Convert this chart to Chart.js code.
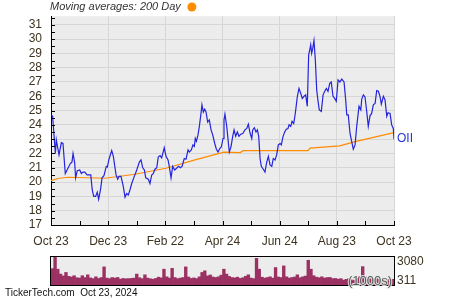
<!DOCTYPE html>
<html>
<head>
<meta charset="utf-8">
<script src="https://cdn.jsdelivr.net/npm/chart.js@4"></script>
<style>
  html, body { margin: 0; padding: 0; background: #fff; }
  #wrap { position: relative; width: 450px; height: 300px; }
  canvas { position: absolute; left: 0; top: 0; }
</style>
</head>
<body>
<div id="wrap">
  <canvas id="priceChart" width="450" height="300"></canvas>
  <canvas id="volumeChart" width="450" height="300"></canvas>
</div>
<script>
// trading day index (0 = Oct 23, 2023 ... 252 = Oct 23, 2024)
const priceDays = [0.2, 1.2, 3.2, 3.9, 5.9, 7.6, 8.8, 10.5, 11.8, 14.2, 15.4, 16.2, 17.4, 18.1, 19.3, 21.1, 22.3, 23.5, 24.8, 26.5,
  29.2, 30.3, 31.4, 32.8, 34.0, 35.0, 36.5, 37.5, 38.9, 40.6, 41.4, 42.6, 44.6, 45.8, 47.8, 49.0, 50.0, 51.4, 53.1, 54.4,
  55.6, 56.8, 58.0, 59.3, 61.2, 63.0, 64.9, 66.1, 67.4, 68.6, 69.6, 71.5, 72.7, 74.0, 75.2, 76.4, 77.7, 78.8, 80.1, 81.3,
  83.2, 84.5, 86.0, 86.9, 88.2, 89.4, 90.9, 92.6, 93.8, 95.0, 96.3, 97.9, 99.2, 100.7, 101.6, 103.1, 104.3, 105.3, 106.0, 106.8,
  108.0, 109.0, 110.2, 110.9, 111.9, 112.9, 113.9, 115.1, 116.3, 117.6, 118.8, 120.3, 121.5, 122.7, 124.0, 125.1, 126.4, 127.1, 127.8, 129.1,
  131.0, 132.3, 133.5, 134.5, 135.7, 136.9, 138.1, 139.4, 140.9, 142.5, 143.8, 145.0, 146.2, 147.5, 148.2, 149.4, 150.6, 151.6, 152.6, 153.6,
  154.5, 156.0, 157.2, 158.5, 159.7, 160.9, 162.2, 163.3, 164.6, 165.8, 167.0, 168.3, 169.2, 170.5, 171.7, 172.9, 174.1, 174.9, 176.1, 177.1,
  178.3, 179.1, 179.8, 181.0, 182.2, 183.5, 184.6, 185.9, 187.1, 188.3, 189.3, 190.1, 190.8, 191.5, 192.3, 193.2, 194.2, 195.2, 196.2, 197.1,
  198.6, 199.9, 201.1, 202.3, 203.5, 204.8, 205.9, 207.2, 208.4, 209.6, 210.9, 212.3, 213.6, 215.3, 216.5, 217.3, 218.4, 219.7, 220.9, 222.1,
  223.4, 224.6, 226.3, 227.6, 228.3, 229.5, 230.7, 232.0, 233.1, 234.4, 235.6, 236.8, 238.1, 239.3, 240.5, 241.7, 242.7, 244.2, 245.4, 246.7,
  247.6, 249.1, 250.3, 251.5, 252];
const priceValues = [24.7, 24.6, 22.0, 22.95, 21.9, 22.76, 22.7, 20.6, 20.85, 21.3, 21.4, 22.0, 21.35, 20.3, 20.8, 20.85, 20.6, 20.7, 20.7, 20.5,
  20.5, 19.45, 19.0, 19.0, 19.3, 18.8, 19.55, 20.3, 20.45, 21.1, 21.05, 21.6, 22.2, 21.8, 20.5, 20.2, 20.4, 20.4, 19.7, 18.95,
  19.2, 19.1, 19.45, 19.9, 20.4, 20.85, 21.4, 21.55, 21.0, 20.85, 20.3, 20.2, 19.9, 20.5, 20.6, 20.9, 21.0, 21.75, 21.85, 21.7,
  22.4, 21.8, 21.55, 21.1, 20.3, 21.1, 20.85, 21.0, 21.1, 21.0, 21.1, 21.65, 21.6, 22.25, 22.1, 22.25, 22.6, 22.5, 23.05, 22.85,
  23.3, 23.9, 24.8, 25.4, 24.9, 25.1, 24.9, 24.2, 24.35, 23.65, 23.3, 22.7, 22.3, 22.1, 22.35, 22.45, 23.05, 24.35, 24.75, 23.9,
  22.1, 22.5, 23.2, 23.65, 23.2, 23.5, 23.2, 23.35, 23.4, 23.65, 23.75, 24.05, 23.45, 23.05, 23.65, 23.8, 23.5, 23.65, 23.2, 21.65,
  21.1, 20.9, 20.7, 21.4, 21.8, 21.2, 21.1, 21.65, 21.55, 21.9, 22.6, 22.7, 22.6, 23.2, 23.5, 23.7, 23.75, 24.0, 23.9, 24.25,
  24.1, 24.55, 25.05, 26.0, 26.55, 26.2, 25.85, 26.0, 26.1, 25.3, 28.9, 29.25, 29.6, 29.0, 29.35, 29.9, 28.55, 26.45, 25.65, 25.05,
  24.95, 26.1, 26.35, 26.55, 26.35, 26.9, 27.0, 26.0, 25.85, 25.65, 27.15, 27.0, 27.2, 27.0, 25.75, 24.7, 24.7, 23.4, 22.85, 22.3,
  22.6, 23.9, 25.3, 25.05, 25.8, 26.1, 25.95, 24.9, 23.9, 24.65, 24.8, 25.4, 25.5, 26.4, 26.35, 26.0, 25.45, 26.0, 25.75, 24.6,
  24.85, 24.8, 24.0, 23.75, 23.0];

// 200 day moving average
const maDays = [0, 5, 12.5, 39.7, 61.7, 84.5, 105.8, 127.1, 138.9, 141.3, 188.8, 190.3, 212.1, 223.4, 252];
const maValues = [20.1, 20.25, 20.34, 20.27, 20.55, 20.97, 21.55, 22.1, 22.06, 22.2, 22.2, 22.37, 22.53, 22.83, 23.46];

// volume in 1000s, one bar per two trading days
const volumeValues = [1800, 3080, 1740, 1200, 1000, 1380, 950, 880, 1020, 800, 760, 1020, 820, 1120, 780, 700, 900, 720, 820, 1990,
  760, 700, 820, 760, 830, 640, 720, 680, 700, 720, 760, 1200, 800, 700, 1120, 760, 680, 640, 720, 860,
  780, 1740, 900, 760, 1830, 820, 700, 760, 820, 1990, 880, 720, 780, 700, 900, 1380, 1560, 1000, 1100, 880,
  820, 900, 1080, 1740, 1200, 940, 820, 780, 860, 720, 800, 960, 1120, 760, 700, 2930, 1740, 860, 760, 820,
  900, 760, 1920, 880, 820, 2100, 900, 760, 820, 880, 1120, 800, 900, 980, 2720, 1740, 1020, 860, 800, 900,
  760, 820, 830, 700, 720, 640, 700, 540, 620, 700, 580, 640, 700, 900, 2020, 880, 760, 680, 640, 700,
  620, 600, 560, 640, 600, 620];
const volumeDays = volumeValues.map((v, i) => String(i * 2 + 1));

const xTickDays = [0, 42, 84, 126, 168, 210, 252];
const xTickLabels = ['Oct 23', 'Dec 23', 'Feb 22', 'Apr 24', 'Jun 24', 'Aug 23', 'Oct 23'];
const volumeTickLabels = ['3080', '311'];
const tickerName = 'OII';
const titleText = 'Moving averages: 200 Day';
const footerText = 'TickerTech.com  Oct 23, 2024';

const FONT = '"Liberation Sans", Arial, sans-serif';
const TEXT = '#3d3320';
Chart.defaults.font.family = FONT;
Chart.defaults.animation = false;

// grey plot background
const plotBg = {
  id: 'plotBg',
  beforeDraw(chart) {
    const a = chart.chartArea, ctx = chart.ctx;
    ctx.save();
    ctx.fillStyle = '#ececec';
    ctx.fillRect(a.left, a.top, a.right - a.left, a.bottom - a.top);
    ctx.restore();
  }
};

// short inward tick marks, title, ticker label, footer
const priceDecor = {
  id: 'priceDecor',
  afterDraw(chart) {
    const ctx = chart.ctx, a = chart.chartArea;
    const xs = chart.scales.x, ys = chart.scales.y;
    ctx.save();
    ctx.strokeStyle = '#000';
    ctx.lineWidth = 1;
    ctx.beginPath();
    for (let v = 17; v <= 31.5; v += 0.5) {
      const y = Math.round(ys.getPixelForValue(v)) + 0.5;
      ctx.moveTo(a.left, y);
      ctx.lineTo(a.left + 4, y);
    }
    for (let d = 0; d <= 252; d += 21) {
      const x = Math.round(xs.getPixelForValue(d)) + 0.5;
      ctx.moveTo(x, a.bottom);
      ctx.lineTo(x, a.bottom - 4);
    }
    ctx.stroke();

    // title with orange dot
    ctx.font = 'italic 11px ' + FONT;
    ctx.fillStyle = '#333';
    ctx.textBaseline = 'middle';
    ctx.textAlign = 'left';
    ctx.fillText(titleText, 50, 7);
    const w = ctx.measureText(titleText).width;
    ctx.fillStyle = '#ff8c00';
    ctx.beginPath();
    ctx.arc(50 + w + 11, 7, 4.5, 0, Math.PI * 2);
    ctx.fill();

    // ticker name at the end of the price line
    const last = chart.getDatasetMeta(0).data.at(-1);
    ctx.font = '12px ' + FONT;
    ctx.fillStyle = '#2233dd';
    ctx.fillText(tickerName, a.right + 3, last.y - 1);

    // footer
    ctx.font = '10px ' + FONT;
    ctx.fillStyle = '#111';
    ctx.fillText(footerText, 5, 293);
    ctx.restore();
  }
};

new Chart(document.getElementById('priceChart'), {
  type: 'line',
  data: {
    datasets: [{
      data: priceDays.map((d, i) => ({ x: d, y: priceValues[i] })),
      borderColor: '#2424dc',
      borderWidth: 1.2,
      pointRadius: 0,
      tension: 0
    }, {
      data: maDays.map((d, i) => ({ x: d, y: maValues[i] })),
      borderColor: '#ff8c00',
      borderWidth: 1.2,
      pointRadius: 0,
      tension: 0
    }]
  },
  options: {
    responsive: false,
    devicePixelRatio: 1,
    layout: { padding: { left: 0, top: 16, right: 56, bottom: 0 } },
    plugins: { legend: { display: false }, tooltip: { enabled: false } },
    scales: {
      x: {
        type: 'linear',
        min: 0,
        max: 252,
        afterFit: s => { s.height = 75; },
        afterBuildTicks: s => { s.ticks = xTickDays.map(v => ({ value: v })); },
        ticks: {
          autoSkip: false,
          maxRotation: 0,
          padding: 9,
          color: TEXT,
          font: { size: 12 },
          callback: v => xTickLabels[xTickDays.indexOf(v)]
        },
        grid: { color: '#d6d6d6', drawTicks: false },
        border: { color: '#000', width: 1 }
      },
      y: {
        type: 'linear',
        min: 17,
        max: 31.6,
        afterFit: s => { s.width = 51; },
        ticks: {
          stepSize: 1,
          autoSkip: false,
          includeBounds: false,
          padding: 9,
          color: TEXT,
          font: { size: 12 }
        },
        grid: { color: '#d6d6d6', drawTicks: false },
        border: { color: '#000', width: 1 }
      }
    }
  },
  plugins: [plotBg, priceDecor]
});

// volume panel: border, right labels and unit
const volumeDecor = {
  id: 'volumeDecor',
  afterDraw(chart) {
    const ctx = chart.ctx, a = chart.chartArea;
    ctx.save();
    ctx.strokeStyle = '#000';
    ctx.lineWidth = 1;
    ctx.strokeRect(a.left - 0.5, a.top - 0.5, a.right - a.left + 1, a.bottom - a.top + 1);
    ctx.font = '12px ' + FONT;
    ctx.fillStyle = TEXT;
    ctx.textBaseline = 'middle';
    ctx.textAlign = 'left';
    ctx.fillText(volumeTickLabels[0], a.right + 3, a.top + 5);
    ctx.fillText(volumeTickLabels[1], a.right + 3, a.bottom - 4);
    ctx.font = '13px ' + FONT;
    ctx.textAlign = 'right';
    ctx.lineWidth = 2;
    ctx.strokeStyle = 'rgba(235,235,235,0.9)';
    ctx.strokeText('(1000s)', a.right - 2, a.bottom - 4);
    ctx.fillStyle = '#4f5f52';
    ctx.fillText('(1000s)', a.right - 2, a.bottom - 4);
    ctx.restore();
  }
};

new Chart(document.getElementById('volumeChart'), {
  type: 'bar',
  data: {
    labels: volumeDays,
    datasets: [{
      data: volumeValues,
      backgroundColor: '#9b3062',
      borderWidth: 0,
      barPercentage: 1,
      categoryPercentage: 1
    }]
  },
  options: {
    responsive: false,
    devicePixelRatio: 1,
    layout: { padding: { left: 51, top: 257, right: 56, bottom: 15 } },
    plugins: { legend: { display: false }, tooltip: { enabled: false } },
    scales: {
      x: { type: 'category', display: false, offset: true },
      y: { min: 0, max: 3080, display: false }
    }
  },
  plugins: [plotBg, volumeDecor]
});
</script>
</body>
</html>
